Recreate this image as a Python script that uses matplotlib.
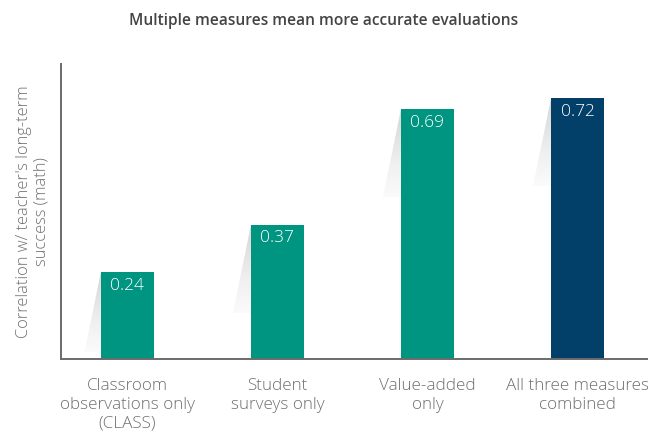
import numpy as np
import matplotlib.pyplot as plt
from matplotlib.patches import Polygon

categories = ['Classroom\nobservations only\n(CLASS)', 'Student\nsurveys only',
              'Value-added\nonly', 'All three measures\ncombined']
values = [0.24, 0.37, 0.69, 0.72]
labels = ['0.24', '0.37', '0.69', '0.72']
colors = ['#009581', '#009581', '#009581', '#023f69']

plt.rcParams['font.family'] = ['Open Sans', 'DejaVu Sans']

fig = plt.figure(figsize=(6.48, 4.33), dpi=100)
ax = fig.add_axes([0.094, 0.171, 0.906, 0.681])

x = np.arange(len(values))
W = 0.353
ax.set_xlim(-0.443, 3.47)
ax.set_ylim(0, 0.815)

# soft shadow to the left of each bar
grad = np.linspace(0, 1, 256).reshape(-1, 1)
for xi, v in zip(x, values):
    left = xi - W / 2
    sh = min(0.243, v - 0.02)
    poly = Polygon([(left, v), (left - 0.12 * sh / 0.243, v - sh), (left, v - sh)],
                   closed=True, facecolor='none', edgecolor='none')
    ax.add_patch(poly)
    im = ax.imshow(grad, cmap='Greys', vmin=-0.15, vmax=4.0, aspect='auto',
                   extent=[left - 0.13, left, v, v - sh], origin='upper',
                   interpolation='bilinear', zorder=1)
    im.set_clip_path(poly)

bars = ax.bar(x, values, width=W, color=colors, zorder=2)
for b, lab in zip(bars, labels):
    ax.text(b.get_x() + b.get_width() / 2, b.get_height() - 0.037, lab,
            ha='center', va='center', color='white', fontsize=12.5, zorder=3,
            fontweight='light')

ax.set_xlim(-0.443, 3.47)
ax.set_ylim(0, 0.815)

for s in ['top', 'right']:
    ax.spines[s].set_visible(False)
for s in ['left', 'bottom']:
    ax.spines[s].set_color('#6b6b6b')
    ax.spines[s].set_linewidth(1.4)

ax.set_yticks([])
ax.set_xticks(x)
ax.set_xticklabels(categories, fontsize=12.3, color='#707070', linespacing=1.22,
                   fontweight='light')
ax.tick_params(axis='x', length=0, pad=14)

ax.set_ylabel("Correlation w/ teacher's long-term\nsuccess (math)", fontsize=11.8,
              color='#707070', labelpad=8, linespacing=1.12, fontweight='light')

fig.text(0.5, 0.952, 'Multiple measures mean more accurate evaluations',
         ha='center', va='center', fontsize=11.2, color='#444444', fontweight='semibold')

fig.savefig('out.png', dpi=100)
